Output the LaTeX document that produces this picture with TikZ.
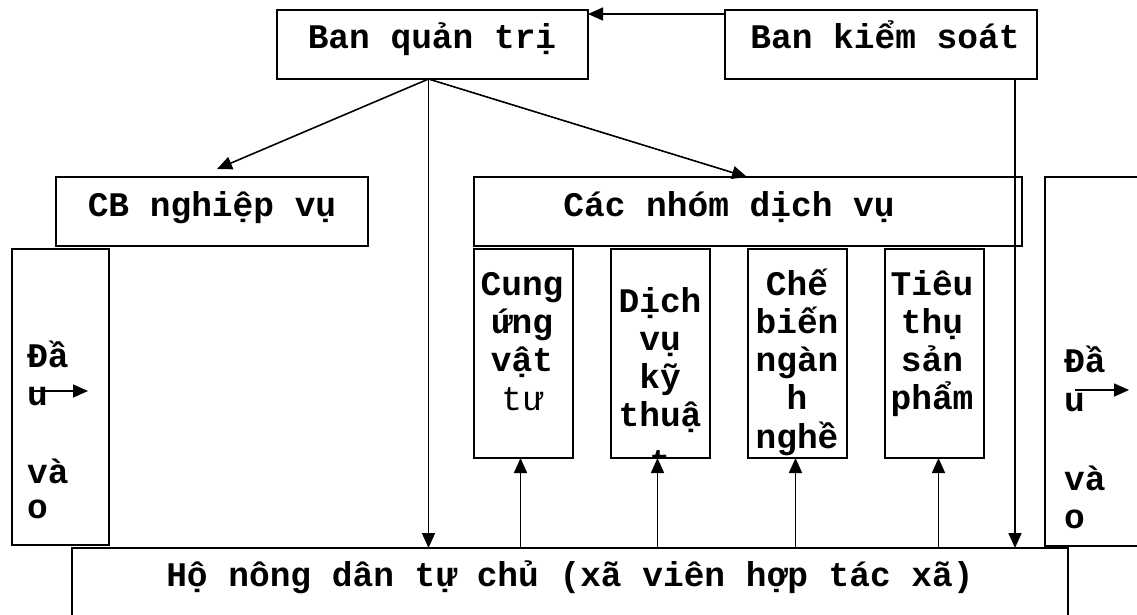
\documentclass[tikz,border=0pt]{standalone}
\usepackage{fontspec}
\newfontfamily\monofam{Liberation Mono}
\usetikzlibrary{arrows.meta,calc}
\newcommand\lbfont{\monofam\bfseries\fontsize{34.5}{38.3}\selectfont}
\newcommand\lbregfont{\monofam\mdseries\fontsize{34.5}{38.3}\selectfont}
\begin{document}
\begin{tikzpicture}[x=1pt,y=-1pt,
  box/.style={draw,line width=1.9pt,inner sep=0pt,outer sep=0pt,anchor=north west},
  lbl/.style={anchor=base,inner sep=0pt,font=\lbfont},
  lblw/.style={anchor=base west,inner sep=0pt,font=\lbfont},
  arr/.style={line width=1.6pt,-{Triangle[length=15pt,width=13pt]}},
  ln/.style={line width=1.6pt}]
\useasboundingbox (0,0) rectangle (1137,614);
\clip (0,0) rectangle (1137,614);
% boxes
\node[box,minimum width=311pt,minimum height=69pt] (bqt) at (277,10) {};
\node[box,minimum width=312pt,minimum height=69pt] (bks) at (725,10) {};
\node[box,minimum width=312pt,minimum height=69pt] (cb) at (56,177) {};
\node[box,minimum width=548pt,minimum height=69pt] (cndv) at (474,177) {};
\node[box,minimum width=99pt,minimum height=209pt] (s1) at (474,249) {};
\node[box,minimum width=99pt,minimum height=209pt] (s2) at (611,249) {};
\node[box,minimum width=99pt,minimum height=209pt] (s3) at (748,249) {};
\node[box,minimum width=99pt,minimum height=209pt] (s4) at (885,249) {};
\node[box,minimum width=97pt,minimum height=296pt] (dvL) at (12,249) {};
\node[box,minimum width=150pt,minimum height=369pt] (dvR) at (1045,177) {};
\node[box,minimum width=996pt,minimum height=100pt] (hnd) at (72,548) {};
% labels
\node[lbl] (tbqt) at (432,48) {Ban quản trị};
\node[lbl] (tbks) at (885,48) {Ban kiểm soát};
\node[lbl] (tcb) at (212,216) {CB nghiệp vụ};
\node[lbl] (tcndv) at (729,216) {Các nhóm dịch vụ};
\node[lbl] (thnd) at (570,586) {Hộ nông dân tự chủ (xã viên hợp tác xã)};
\foreach \t [count=\i from 0] in {Cung,ứng,vật}
  \node[lbl] (s1l\i) at (522,295+38.3*\i) {\t};
\node[lbl,font=\lbregfont] (s1l3) at (522,410) {tư};
\begin{scope}
  \clip (s2.north west) rectangle (s2.south east);
  \foreach \t [count=\i from 0] in {Dịch,vụ,kỹ,thuậ}
    \node[lbl] (s2l\i) at (660,312+38.3*\i) {\t};
  \node[lbl] (s2l4) at (660,473) {t};
\end{scope}
\foreach \t [count=\i from 0] in {Chế,biến,ngàn,h,nghề}
  \node[lbl] (s3l\i) at (797,295+38.3*\i) {\t};
\foreach \t [count=\i from 0] in {Tiêu,thụ,sản,phẩm}
  \node[lbl] (s4l\i) at (932,295+38.3*\i) {\t};
% Dau vao left
\node[lblw] (dl1) at (27,367) {Đầ};
\node[lblw] (dl2) at (27,405) {u};
\node[lblw] (dl3) at (27,483) {và};
\node[lblw] (dl4) at (27,518) {o};
\coordinate (aL1) at (32,391);
\coordinate (aL2) at (88,391);
\draw[arr] (aL1) -- (aL2);
% Dau vao right
\node[lblw] (dr1) at (1064,372) {Đầ};
\node[lblw] (dr2) at (1064,411) {u};
\node[lblw] (dr3) at (1064,490) {và};
\node[lblw] (dr4) at (1064,528) {o};
\coordinate (aR1) at (1075,390);
\coordinate (aR2) at (1129,390);
\draw[arr] (aR1) -- (aR2);
% connectors
\coordinate (hub) at ([xshift=-4pt]bqt.south);
\draw[arr] ([yshift=-4pt]bks.north west) -- ([yshift=-4pt]bqt.north east);
\draw[arr] (hub) -- ([xshift=5pt,yshift=8pt]cb.north);
\draw[arr] (hub) -- ([xshift=-1pt]cndv.north);
\draw[arr] (hub) -- (hub |- hnd.north);
\coordinate (bksd) at ([xshift=-22pt]bks.south east);
\draw[arr] (bksd) -- (bksd |- hnd.north);
\draw[arr] ([xshift=-3pt]s1.south |- hnd.north) -- ([xshift=-3pt]s1.south);
\draw[arr] ([xshift=-3pt]s2.south |- hnd.north) -- ([xshift=-3pt]s2.south);
\draw[arr] ([xshift=-2pt]s3.south |- hnd.north) -- ([xshift=-2pt]s3.south);
\draw[arr] ([xshift=4pt]s4.south |- hnd.north) -- ([xshift=4pt]s4.south);
\end{tikzpicture}
\end{document}
